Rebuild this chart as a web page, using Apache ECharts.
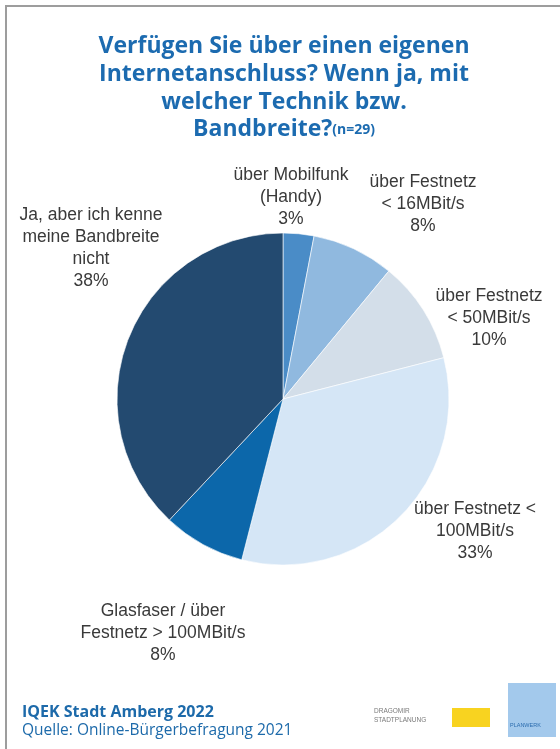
<!DOCTYPE html>
<html>
<head>
<meta charset="utf-8">
<script src="https://cdn.jsdelivr.net/npm/echarts@6/dist/echarts.min.js"></script>
<style>
  html, body { margin: 0; padding: 0; background: #ffffff; }
  #chart { width: 560px; height: 749px; }
</style>
</head>
<body>
<div id="chart"></div>
<script>
// Data
const categories = [
  'über Mobilfunk\n(Handy)',
  'über Festnetz\n< 16MBit/s',
  'über Festnetz\n< 50MBit/s',
  'über Festnetz <\n100MBit/s',
  'Glasfaser / über\nFestnetz > 100MBit/s',
  'Ja, aber ich kenne\nmeine Bandbreite\nnicht'
];
const percentages = [3, 8, 10, 33, 8, 38];
const sliceColors = ['#4a8cc7', '#90b9df', '#d3dee9', '#d5e6f6', '#0c67aa', '#234a70'];
const titleLines = ['Verfügen Sie über einen eigenen', 'Internetanschluss? Wenn ja, mit', 'welcher Technik bzw.', 'Bandbreite?'];
const sampleNote = '(n=29)';
const footerTitle = 'IQEK Stadt Amberg 2022';
const footerSource = 'Quelle: Online-Bürgerbefragung 2021';

// label anchor positions (layout only)
const labelPos = [[291, 197], [423, 204], [489, 318], [475, 531], [163, 633], [91, 248]];

const chart = echarts.init(document.getElementById('chart'), null, { renderer: 'canvas' });

const titleText = titleLines.map((l, i) => i === titleLines.length - 1 ? '{t|' + l + '}{s|' + sampleNote + '}' : '{t|' + l + '}').join('\n');

const option = {
  backgroundColor: '#ffffff',
  animation: false,
  graphic: [
    { type: 'rect', shape: { x: 6, y: 6, width: 700, height: 900 }, style: { fill: 'none', stroke: '#9d9d9d', lineWidth: 2 }, silent: true },
    {
      type: 'text', x: 284, y: 33,
      style: {
        text: titleText,
        align: 'center',
        verticalAlign: 'top',
        rich: {
          t: { fontFamily: 'Open Sans', fontWeight: 'bold', fontSize: 23, lineHeight: 27.7, fill: '#1c6bb0', align: 'center' },
          s: { fontFamily: 'Open Sans', fontWeight: 'bold', fontSize: 14, lineHeight: 27.7, fill: '#1c6bb0' }
        }
      }
    },
    { type: 'text', left: 22, top: 704, style: { text: footerTitle, fontFamily: 'Open Sans', fontWeight: 'bold', fontSize: 16, fill: '#1d6aaa' } },
    { type: 'text', left: 22, top: 723, style: { text: footerSource, fontFamily: 'Open Sans', fontSize: 15.5, fill: '#1d6aaa' } },
    { type: 'text', left: 374, top: 707, style: { text: 'DRAGOMIR\nSTADTPLANUNG', fontFamily: 'Liberation Sans', fontSize: 6.5, lineHeight: 9, fill: '#7a7a7a' } },
    { type: 'rect', shape: { x: 452, y: 708, width: 38, height: 19 }, style: { fill: '#f8d320' } },
    { type: 'rect', shape: { x: 508, y: 683, width: 48, height: 54 }, style: { fill: '#a3c9ec' } },
    { type: 'text', left: 510, top: 722, style: { text: 'PLANWERK', fontFamily: 'Liberation Sans', fontSize: 5.5, fill: '#2b6cae' } }
  ],
  series: [{
    type: 'pie',
    center: [283, 399],
    radius: 166,
    startAngle: 90,
    clockwise: true,
    avoidLabelOverlap: false,
    itemStyle: { borderColor: '#ffffff', borderWidth: 0.6 },
    label: {
      show: true,
      position: 'outside',
      formatter: '{b}\n{d}%',
      fontFamily: 'Liberation Sans',
      fontSize: 17.5,
      lineHeight: 22,
      color: '#3a3a3a',
      align: 'center'
    },
    labelLine: { show: false },
    labelLayout: function (params) {
      const p = labelPos[params.dataIndex];
      return { x: p[0], y: p[1], align: 'center', verticalAlign: 'middle' };
    },
    data: categories.map((c, i) => ({ name: c, value: percentages[i], itemStyle: { color: sliceColors[i] } }))
  }]
};
chart.setOption(option);
</script>
</body>
</html>
